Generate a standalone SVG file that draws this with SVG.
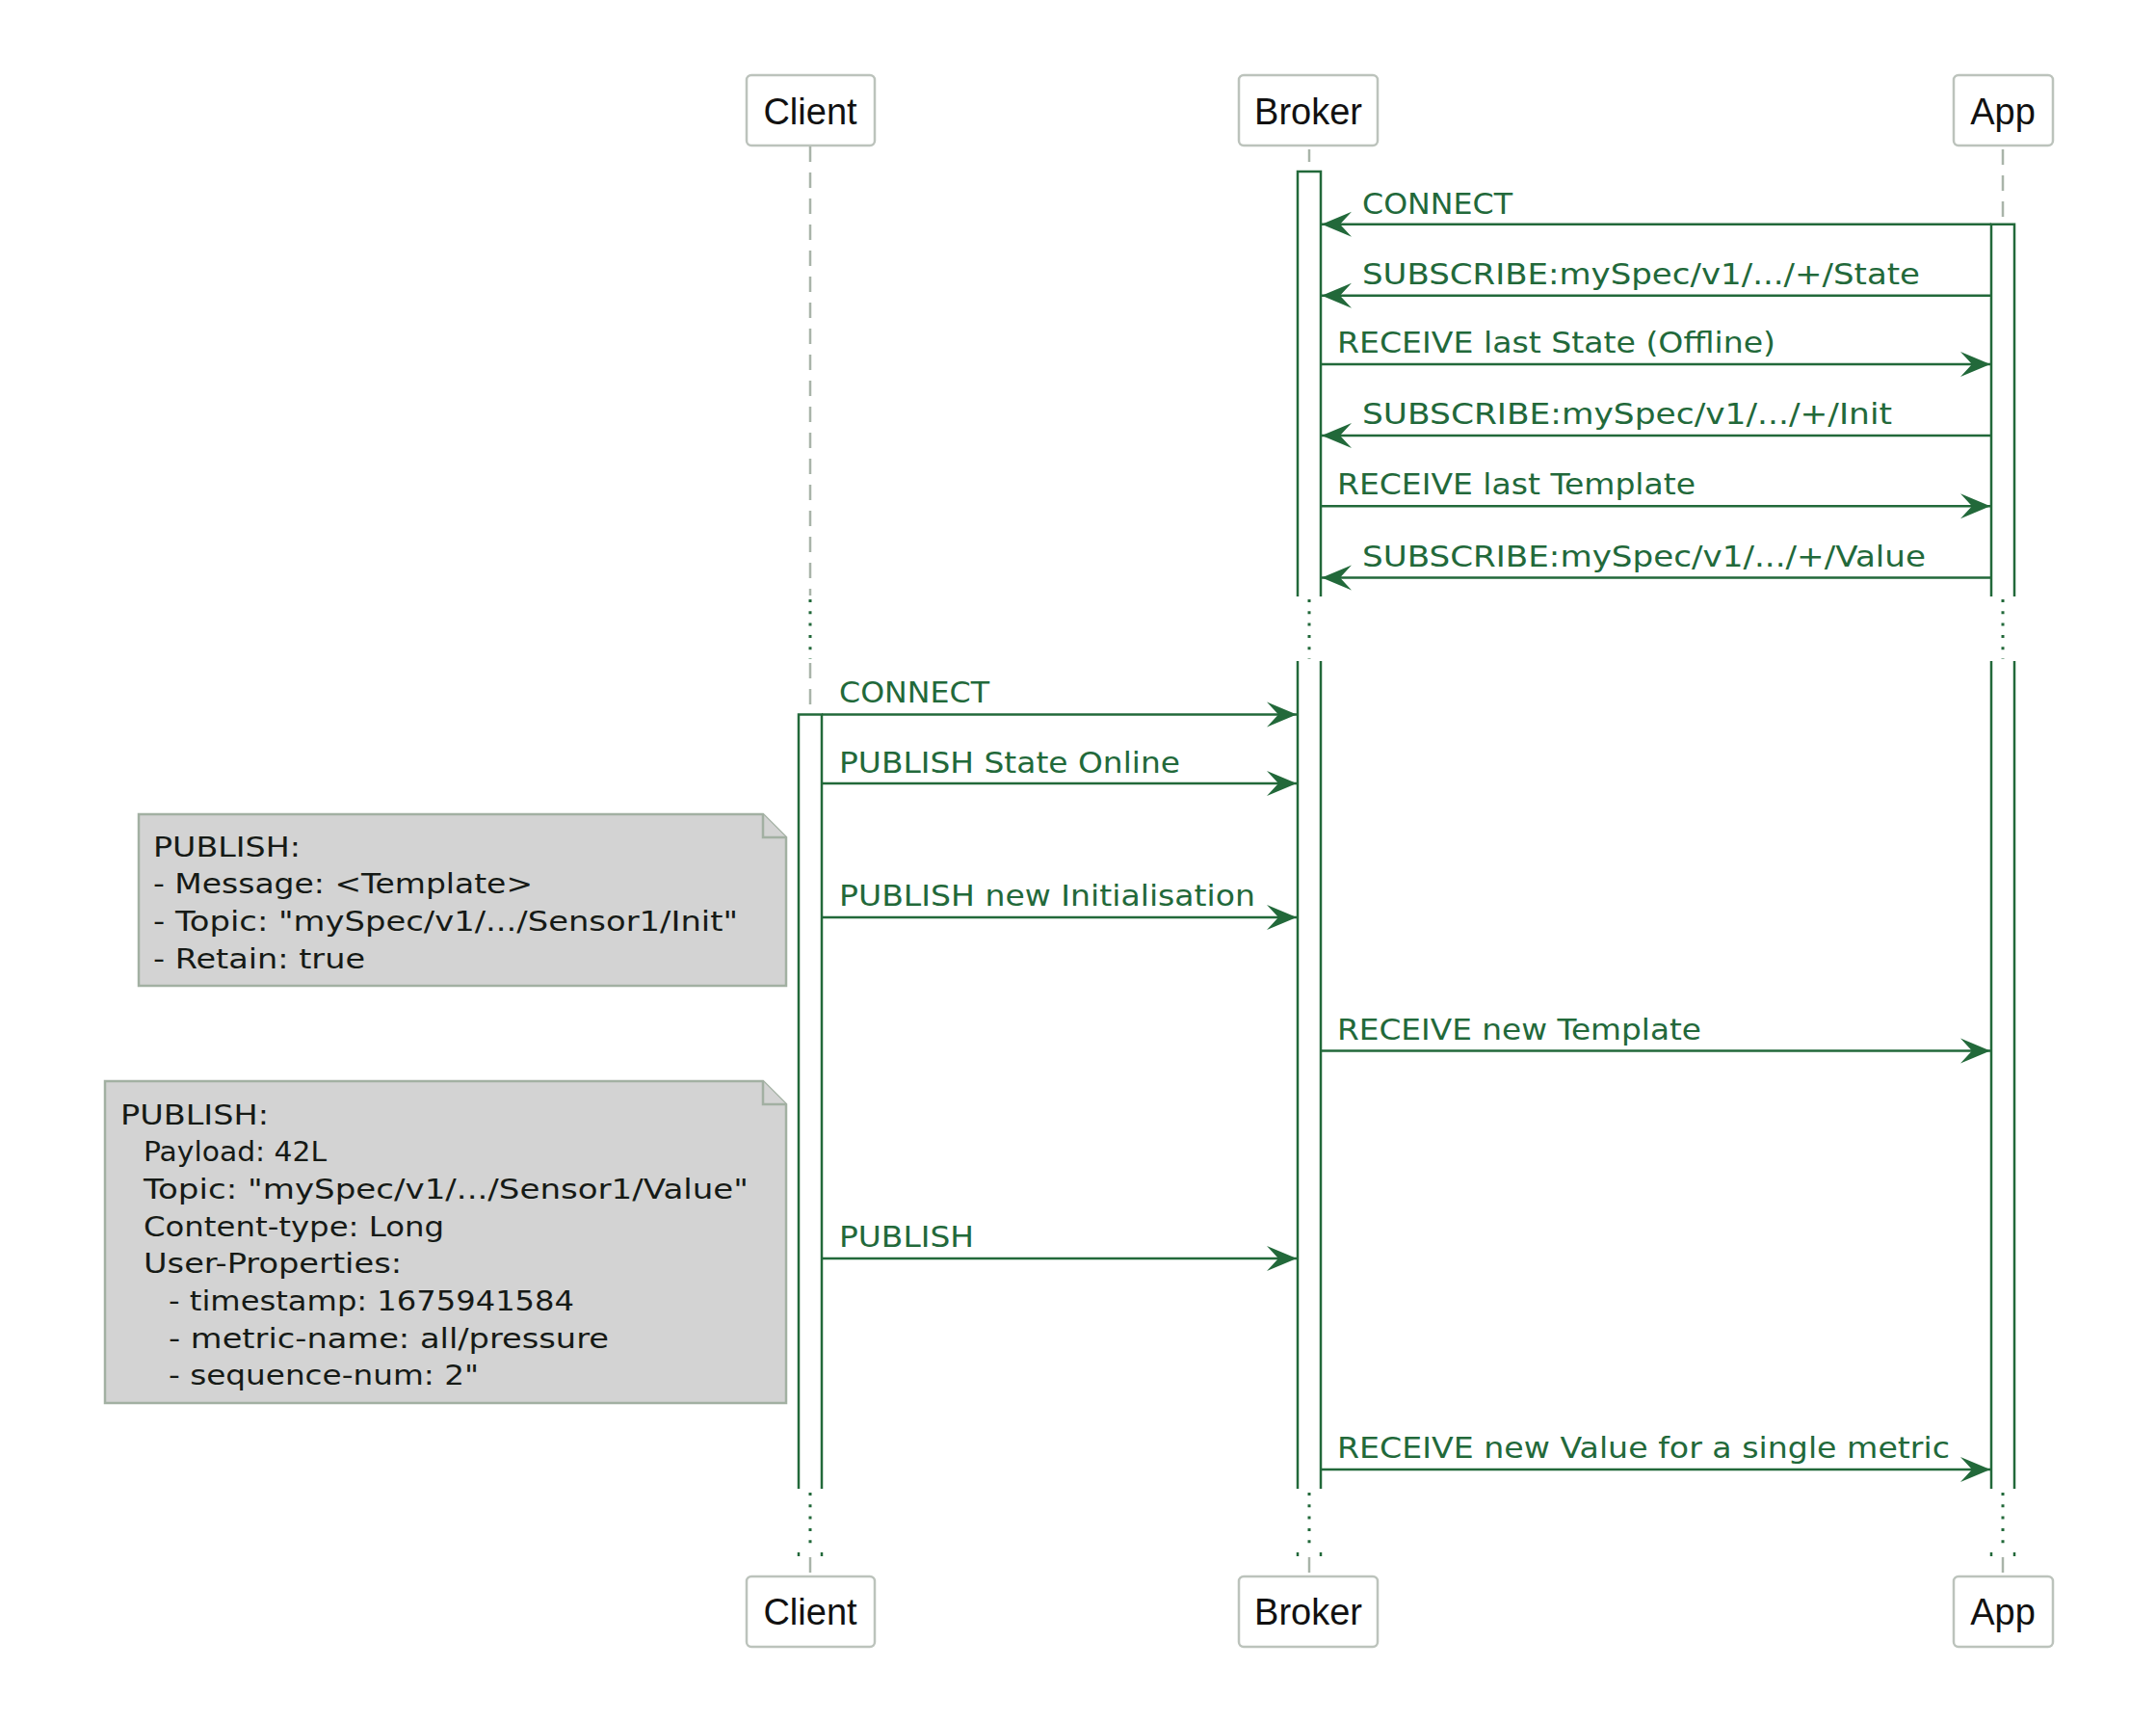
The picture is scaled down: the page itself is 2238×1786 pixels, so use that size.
<svg xmlns="http://www.w3.org/2000/svg" width="2238" height="1786" viewBox="0 0 2238 1786">
<style>
.box {fill:#ffffff; stroke:#BCC3BC; stroke-width:2.5}
.plabel {font-family:"Liberation Sans", Arial, sans-serif; font-size:38px; fill:#111111; text-anchor:middle}
.life {stroke:#A9B4A9; stroke-width:2.5; stroke-dasharray:16 11; fill:none}
.dots {stroke:#22693A; stroke-width:3; stroke-dasharray:3 9.3; fill:none}
.act {fill:#ffffff; stroke:#22693A; stroke-width:2.5}
.actl {stroke:#22693A; stroke-width:2.5; fill:none}
.msg {stroke:#22693A; stroke-width:2.5; fill:none; marker-end:url(#arr)}
.mtext {font-family:"DejaVu Sans", Verdana, sans-serif; font-size:30px; fill:#22693A}
.npath {fill:#D3D3D3; stroke:#A2B0A2; stroke-width:2.5; stroke-linejoin:miter}
.ntext {font-family:"DejaVu Sans", Verdana, sans-serif; font-size:29px; fill:#161a16}
</style>
<defs>
<marker id="arr" markerUnits="userSpaceOnUse" markerWidth="34" markerHeight="30" viewBox="0 0 34 30" refX="32" refY="14" orient="auto">
<path d="M32,14 L1,1 L13,14 L1,27 Z" fill="#22693A"/>
</marker>
</defs>

<g id="client">
<rect class="box" x="775" y="78" width="133" height="73" rx="5"/>
<text class="plabel" x="841" y="129">Client</text>
<path class="life" d="M841,152 V618"/>
<path class="dots" d="M841,622 V684"/>
<path class="life" d="M841,688 V741"/>
<path class="act" d="M829,1545 V741.5 H853 V1545"/>
<path class="dots" d="M841,1549 V1608"/>
<path class="actl" d="M829,1611 v4 M853,1611 v4"/>
<path class="life" d="M841,1616 V1636"/>
<rect class="box" x="775" y="1636" width="133" height="73" rx="5"/>
<text class="plabel" x="841" y="1686">Client</text>
</g>

<g id="broker">
<rect class="box" x="1286" y="78" width="144" height="73" rx="5"/>
<text class="plabel" x="1358" y="129">Broker</text>
<path class="life" d="M1359,155 V168"/>
<path class="act" d="M1347,619 V178 H1371 V619"/>
<path class="dots" d="M1359,622 V684"/>
<path class="actl" d="M1347,686 V1545 M1371,686 V1545"/>
<path class="dots" d="M1359,1549 V1608"/>
<path class="actl" d="M1347,1611 v4 M1371,1611 v4"/>
<path class="life" d="M1359,1616 V1636"/>
<rect class="box" x="1286" y="1636" width="144" height="73" rx="5"/>
<text class="plabel" x="1358" y="1686">Broker</text>
</g>

<g id="app">
<rect class="box" x="2028" y="78" width="103" height="73" rx="5"/>
<text class="plabel" x="2079" y="129">App</text>
<path class="life" d="M2079,155 V232"/>
<path class="act" d="M2067,619 V232.7 H2091 V619"/>
<path class="dots" d="M2079,622 V684"/>
<path class="actl" d="M2067,686 V1545 M2091,686 V1545"/>
<path class="dots" d="M2079,1549 V1608"/>
<path class="actl" d="M2067,1611 v4 M2091,1611 v4"/>
<path class="life" d="M2079,1616 V1636"/>
<rect class="box" x="2028" y="1636" width="103" height="73" rx="5"/>
<text class="plabel" x="2079" y="1686">App</text>
</g>

<g id="note-init">
<path class="npath" d="M144,845 H792 L816,869 V1023 H144 Z"/>
<path class="npath" d="M792,845 V869 H816"/>
<text class="ntext" x="159" y="888.5" textLength="153" lengthAdjust="spacingAndGlyphs">PUBLISH:</text>
<text class="ntext" x="159" y="927.4" textLength="394" lengthAdjust="spacingAndGlyphs">- Message: &lt;Template&gt;</text>
<text class="ntext" x="159" y="966.3" textLength="607" lengthAdjust="spacingAndGlyphs">- Topic: "mySpec/v1/.../Sensor1/Init"</text>
<text class="ntext" x="159" y="1005.2" textLength="220" lengthAdjust="spacingAndGlyphs">- Retain: true</text>
</g>

<g id="note-value">
<path class="npath" d="M109,1122 H792 L816,1146 V1456 H109 Z"/>
<path class="npath" d="M792,1122 V1146 H816"/>
<text class="ntext" x="125" y="1166.5" textLength="154" lengthAdjust="spacingAndGlyphs">PUBLISH:</text>
<text class="ntext" x="149" y="1205.2" textLength="190" lengthAdjust="spacingAndGlyphs">Payload: 42L</text>
<text class="ntext" x="149" y="1243.9" textLength="628" lengthAdjust="spacingAndGlyphs">Topic: "mySpec/v1/.../Sensor1/Value"</text>
<text class="ntext" x="149" y="1282.6" textLength="312" lengthAdjust="spacingAndGlyphs">Content-type: Long</text>
<text class="ntext" x="149" y="1321.3" textLength="268" lengthAdjust="spacingAndGlyphs">User-Properties:</text>
<text class="ntext" x="175" y="1360" textLength="421" lengthAdjust="spacingAndGlyphs">- timestamp: 1675941584</text>
<text class="ntext" x="175" y="1398.7" textLength="457" lengthAdjust="spacingAndGlyphs">- metric-name: all/pressure</text>
<text class="ntext" x="175" y="1437.4" textLength="322" lengthAdjust="spacingAndGlyphs">- sequence-num: 2"</text>
</g>

<g id="connectors">
<line class="msg" x1="2067" y1="232.7" x2="1372" y2="232.7"/>
<text class="mtext" x="1414" y="221.5" textLength="156" lengthAdjust="spacingAndGlyphs">CONNECT</text>

<line class="msg" x1="2067" y1="306.8" x2="1372" y2="306.8"/>
<text class="mtext" x="1414" y="295" textLength="579" lengthAdjust="spacingAndGlyphs">SUBSCRIBE:mySpec/v1/.../+/State</text>

<line class="msg" x1="1371" y1="378" x2="2066" y2="378"/>
<text class="mtext" x="1388" y="366" textLength="455" lengthAdjust="spacingAndGlyphs">RECEIVE last State (Offline)</text>

<line class="msg" x1="2067" y1="452" x2="1372" y2="452"/>
<text class="mtext" x="1414" y="440" textLength="550" lengthAdjust="spacingAndGlyphs">SUBSCRIBE:mySpec/v1/.../+/Init</text>

<line class="msg" x1="1371" y1="525.2" x2="2066" y2="525.2"/>
<text class="mtext" x="1388" y="513.2" textLength="372" lengthAdjust="spacingAndGlyphs">RECEIVE last Template</text>

<line class="msg" x1="2067" y1="599.5" x2="1372" y2="599.5"/>
<text class="mtext" x="1414" y="587.5" textLength="585" lengthAdjust="spacingAndGlyphs">SUBSCRIBE:mySpec/v1/.../+/Value</text>

<line class="msg" x1="853" y1="741.5" x2="1346" y2="741.5"/>
<text class="mtext" x="871" y="728.5" textLength="156" lengthAdjust="spacingAndGlyphs">CONNECT</text>

<line class="msg" x1="853" y1="813" x2="1346" y2="813"/>
<text class="mtext" x="871" y="801.5" textLength="354" lengthAdjust="spacingAndGlyphs">PUBLISH State Online</text>

<line class="msg" x1="853" y1="952" x2="1346" y2="952"/>
<text class="mtext" x="871" y="940" textLength="432" lengthAdjust="spacingAndGlyphs">PUBLISH new Initialisation</text>

<line class="msg" x1="1371" y1="1090.5" x2="2066" y2="1090.5"/>
<text class="mtext" x="1388" y="1078.5" textLength="378" lengthAdjust="spacingAndGlyphs">RECEIVE new Template</text>

<line class="msg" x1="853" y1="1306" x2="1346" y2="1306"/>
<text class="mtext" x="871" y="1294" textLength="140" lengthAdjust="spacingAndGlyphs">PUBLISH</text>

<line class="msg" x1="1371" y1="1525" x2="2066" y2="1525"/>
<text class="mtext" x="1388" y="1513" textLength="636" lengthAdjust="spacingAndGlyphs">RECEIVE new Value for a single metric</text>
</g>
</svg>
